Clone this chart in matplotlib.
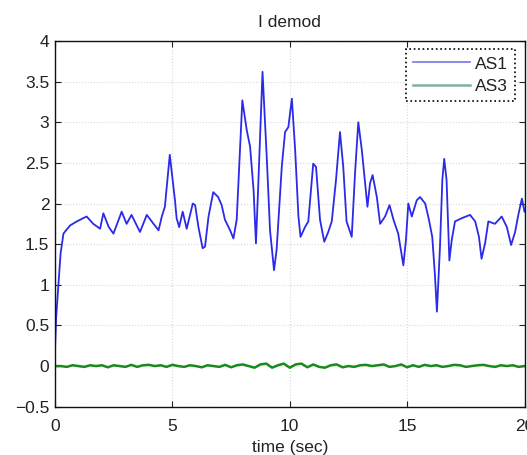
import matplotlib
matplotlib.use("Agg")
import matplotlib.pyplot as plt
import numpy as np

plt.rcParams['font.family'] = ['Liberation Sans', 'DejaVu Sans']

title = "I demod"
xlabel = "time (sec)"
series_names = ["AS1", "AS3"]
xticks = [0, 5, 10, 15, 20]
yticks = [-0.5, 0, 0.5, 1, 1.5, 2, 2.5, 3, 3.5, 4]
ytick_labels = ["\u22120.5", "0", "0.5", "1", "1.5", "2", "2.5", "3", "3.5", "4"]

as1_t = [0.00, 0.05, 0.14, 0.24, 0.36, 0.64, 0.93, 1.20, 1.35, 1.63, 1.92, 2.06, 2.29,
         2.49, 2.84, 3.05, 3.26, 3.62, 3.91, 4.12, 4.41, 4.55, 4.68, 4.89, 5.11, 5.18,
         5.29, 5.44, 5.61, 5.87, 5.97, 6.11, 6.29, 6.39, 6.54, 6.74, 6.95, 7.10, 7.24,
         7.46, 7.60, 7.74, 7.88, 7.98, 8.17, 8.31, 8.46, 8.56, 8.65, 8.84, 9.02, 9.16,
         9.33, 9.44, 9.66, 9.80, 9.94, 10.09, 10.23, 10.37, 10.46, 10.65, 10.79, 11.00,
         11.12, 11.29, 11.47, 11.64, 11.79, 11.97, 12.14, 12.28, 12.42, 12.64, 12.78,
         12.92, 13.07, 13.21, 13.31, 13.42, 13.53, 13.71, 13.85, 14.06, 14.25, 14.42,
         14.62, 14.84, 14.95, 15.05, 15.20, 15.41, 15.55, 15.77, 15.93, 16.07, 16.18,
         16.27, 16.40, 16.50, 16.58, 16.68, 16.80, 16.90, 17.04, 17.33, 17.68, 17.90,
         18.06, 18.17, 18.32, 18.46, 18.74, 19.03, 19.25, 19.43, 19.60, 19.75, 19.89, 20.00]
as1_y = [0.20, 0.60, 0.98, 1.39, 1.63, 1.73, 1.78, 1.82, 1.84, 1.75, 1.69, 1.88, 1.71,
         1.63, 1.90, 1.75, 1.86, 1.65, 1.86, 1.78, 1.67, 1.84, 1.96, 2.60, 2.04, 1.82,
         1.71, 1.90, 1.69, 2.00, 1.98, 1.71, 1.45, 1.47, 1.84, 2.14, 2.08, 1.98, 1.80,
         1.67, 1.57, 1.80, 2.66, 3.27, 2.90, 2.70, 2.16, 1.51, 2.16, 3.62, 2.57, 1.67,
         1.18, 1.43, 2.45, 2.88, 2.94, 3.29, 2.66, 1.84, 1.59, 1.71, 1.78, 2.49,
         2.45, 1.80, 1.53, 1.65, 1.78, 2.29, 2.88, 2.45, 1.78, 1.59, 2.37,
         3.00, 2.66, 2.25, 1.96, 2.25, 2.35, 2.08, 1.75, 1.84, 1.98, 1.80,
         1.63, 1.24, 1.55, 2.00, 1.84, 2.04, 2.08, 2.00, 1.80, 1.59, 1.14,
         0.67, 1.47, 2.29, 2.55, 2.29, 1.30, 1.55, 1.78, 1.82, 1.86, 1.78,
         1.59, 1.32, 1.51, 1.78, 1.75, 1.84, 1.71, 1.49, 1.65, 1.88, 2.06, 1.90]

as3_t = [0.00, 0.25, 0.50, 0.75, 1.00, 1.25, 1.50, 1.75, 2.00, 2.25, 2.50, 2.75, 3.00,
         3.25, 3.50, 3.75, 4.00, 4.25, 4.50, 4.75, 5.00, 5.25, 5.50, 5.75, 6.00, 6.25,
         6.50, 6.75, 7.00, 7.25, 7.50, 7.75, 8.00, 8.25, 8.50, 8.75, 9.00, 9.25, 9.50,
         9.75, 10.00, 10.25, 10.50, 10.75, 11.00, 11.25, 11.50, 11.75, 12.00, 12.25,
         12.50, 12.75, 13.00, 13.25, 13.50, 13.75, 14.00, 14.25, 14.50, 14.75, 15.00,
         15.25, 15.50, 15.75, 16.00, 16.25, 16.50, 16.75, 17.00, 17.25, 17.50, 17.75,
         18.00, 18.25, 18.50, 18.75, 19.00, 19.25, 19.50, 19.75, 20.00]
as3_y = [0.00, 0.00, -0.01, 0.01, 0.00, -0.01, 0.01, 0.00, 0.01, -0.015, 0.01, 0.00,
         -0.01, 0.015, -0.01, 0.01, 0.015, 0.00, 0.01, -0.01, 0.015, 0.00, -0.01, 0.01,
         0.00, -0.015, 0.01, 0.00, -0.01, 0.015, -0.015, 0.01, 0.02, 0.00, -0.02, 0.02,
         0.03, -0.02, 0.01, 0.03, -0.02, 0.02, 0.03, -0.015, 0.02, -0.01, -0.02, 0.01,
         0.02, -0.015, 0.00, -0.01, 0.01, 0.015, 0.00, 0.01, 0.02, -0.01, 0.00, 0.02,
         -0.015, 0.01, -0.01, 0.015, 0.00, 0.01, -0.01, 0.00, 0.015, 0.01, -0.01, 0.00,
         0.01, 0.015, 0.00, -0.01, 0.01, 0.00, 0.01, -0.01, 0.00]

W, H = 527, 455
fig = plt.figure(figsize=(W / 100, H / 100), dpi=100)
ax = fig.add_axes([55 / W, 1 - 406.7 / H, (524.5 - 55) / W, (406.7 - 41) / H])

ax.plot(as1_t, as1_y, color='#2a2ae8', lw=1.3, label=series_names[0])
ax.plot(as3_t, as3_y, color='#1a8a1a', lw=1.8, label=series_names[1])

ax.set_xlim(0, 20)
ax.set_ylim(-0.5, 4)
ax.set_xticks(xticks)
ax.set_yticks(yticks)
ax.set_yticklabels(ytick_labels)
ax.tick_params(direction='in', top=True, right=True, length=4, width=0.8,
               labelsize=12.5, colors='#222222')
ax.tick_params(axis='x', pad=9)
ax.tick_params(axis='y', pad=4)
ax.grid(True, linestyle=':', color='#d8d8d8', lw=0.8)
for s in ax.spines.values():
    s.set_linewidth(1.0)
    s.set_color('#111111')

ax.set_title(title, fontsize=12.5, pad=10, color='#222222')
ax.set_xlabel(xlabel, fontsize=12.5, labelpad=4, color='#222222')

leg = ax.legend(loc='upper right', bbox_to_anchor=(0.98, 0.977), borderaxespad=0,
                fontsize=12.5, handlelength=3.3, fancybox=False, framealpha=1,
                edgecolor='black', borderpad=0.4, labelspacing=0.45, handletextpad=0.3)
leg.get_frame().set_linewidth(1.2)
leg.get_frame().set_linestyle(':')
leg.get_lines()[0].set_color('#8080e8')
leg.get_lines()[1].set_color('#80b0a0')
for t in leg.get_texts():
    t.set_color('#222222')

fig.savefig("out.png", dpi=100)
